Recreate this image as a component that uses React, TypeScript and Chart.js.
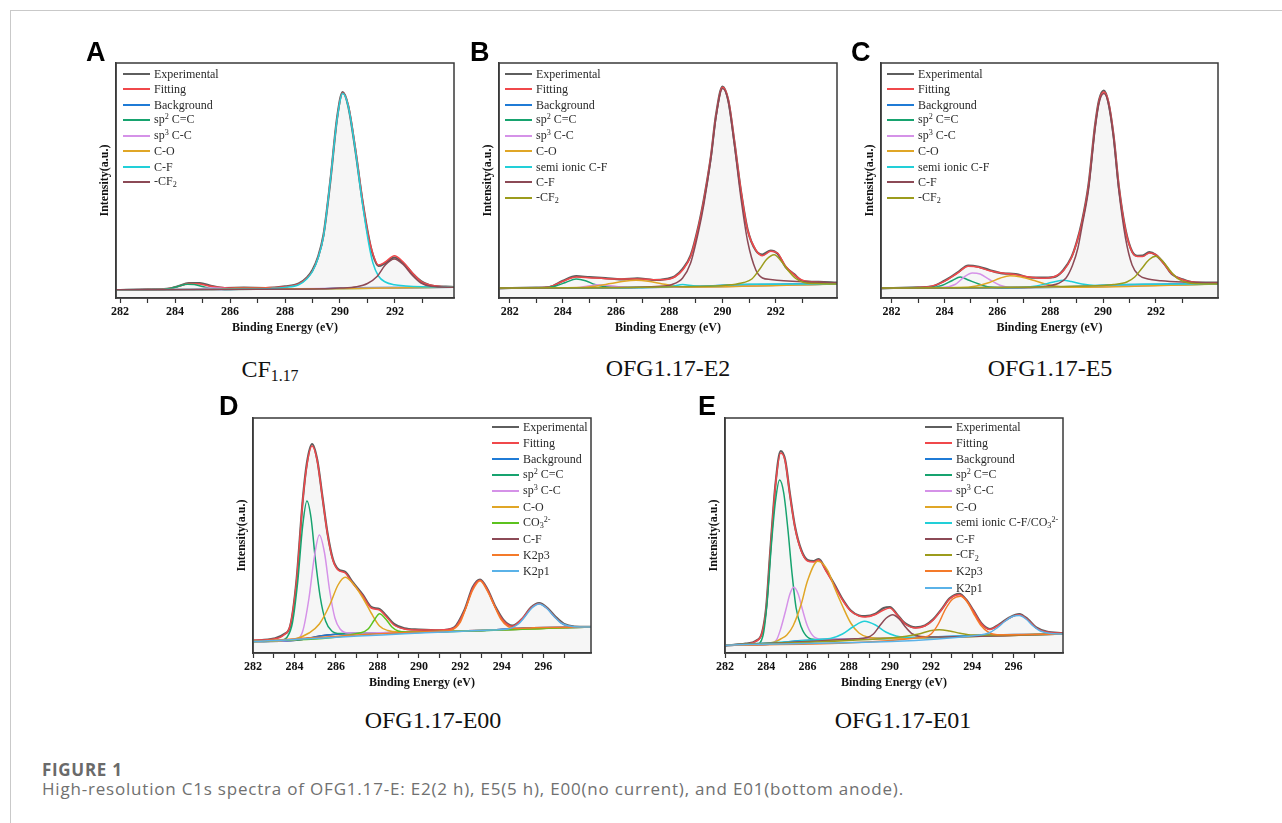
import React, { useEffect, useRef } from "react";
import { Chart, registerables } from "chart.js";

Chart.register(...registerables);

const SERIF = "'Liberation Serif', 'Times New Roman', serif";
const SANS = "'Liberation Sans', Arial, sans-serif";
const CAPTION_FONT = "'Open Sans', 'Noto Sans', sans-serif";

// ---------- colours ----------
const C_EXP = "#5e5e5e";
const C_FIT = "#f0484b";
const C_BG = "#1f7bd6";
const C_SP2 = "#17a36f";
const C_SP3 = "#d592e8";
const C_CO = "#e0a626";
const C_CYAN = "#22cfd8";
const C_BROWN = "#8c4a56";
const C_OLIVE = "#9c9c1c";
const C_CO3 = "#5cc21e";
const C_K3 = "#f47a2a";
const C_K1 = "#5ab2e8";

// ---------- tick values ----------
const TICKS_ABC = [282, 283, 284, 285, 286, 287, 288, 289, 290, 291, 292, 293];
const TICKS_DE = [282, 283, 284, 285, 286, 287, 288, 289, 290, 291, 292, 293, 294, 295, 296, 297];

// ---------- Panel A : CF1.17 ----------
const A_exp = [[281.85,8.0],[283.0,8.7],[283.7,9.1],[284.1,11.8],[284.5,14.8],[284.9,15],[285.3,12.2],[285.8,10.0],[286.5,10.3],[287.3,10.0],[288.0,11.6],[288.5,14.5],[288.8,20.5],[289.0,28],[289.2,41],[289.4,63],[289.65,117],[289.9,181],[290.1,206],[290.3,192],[290.55,150],[290.82,97],[291.05,60],[291.2,43],[291.4,32],[291.65,35],[291.98,40.5],[292.3,35],[292.64,24.5],[292.95,16.8],[293.25,13],[293.85,11.3],[294.15,11]];
const A_fit = [[281.85,8.3],[283.0,8.5],[283.7,9.3],[284.1,11.5],[284.5,14.5],[284.9,14],[285.3,11.8],[285.8,10.3],[286.5,10],[287.3,10.3],[288.0,11.3],[288.5,14],[288.8,20],[289.0,27],[289.2,40],[289.4,62],[289.65,118],[289.9,180],[290.1,205],[290.3,193],[290.55,152],[290.82,98],[291.05,60],[291.2,44],[291.4,33],[291.65,36],[291.98,42.3],[292.3,36],[292.64,25],[292.95,16.5],[293.25,13.3],[293.85,11],[294.15,10.8]];
const A_bg = [[281.85,8.3],[284,8.4],[286,8.6],[288,8.9],[289.3,9.3],[289.9,9.8],[290.5,10.2],[291.5,10.5],[294.15,10.7]];
const A_sp2 = [[281.85,8.3],[283.4,8.5],[283.8,9.6],[284.1,11.6],[284.45,13.8],[284.7,13.5],[285.0,11.5],[285.35,9.4],[285.8,8.6],[294.15,10.7]];
const A_sp3 = [[281.85,8.3],[284.6,8.5],[285.0,9.4],[285.4,10.1],[285.8,9.4],[286.3,8.7],[294.15,10.7]];
const A_co = [[281.85,8.3],[285.3,8.6],[286.2,9.4],[287.0,9.6],[287.8,9.4],[288.6,9.2],[294.15,11]];
const A_cf = [[281.85,8.3],[285,8.5],[286.5,9],[287.5,9.6],[288.0,10.6],[288.5,13.2],[288.8,19.3],[289.0,26.5],[289.2,39.5],[289.4,61.5],[289.65,117.5],[289.9,179.5],[290.1,204.5],[290.3,192],[290.55,150],[290.82,94],[291.05,54],[291.2,35],[291.4,22],[291.65,16],[291.98,13.2],[292.4,12],[293.0,11.2],[294.15,10.8]];
const A_cf2 = [[281.85,8.3],[289.0,8.9],[290.0,9.9],[290.6,11.3],[291.0,14.5],[291.35,21.5],[291.65,33],[291.98,39],[292.3,33.5],[292.64,22.5],[292.95,15],[293.3,11.8],[294.15,10.7]];

// ---------- Panel B : OFG1.17-E2 ----------
const B_exp = [[281.6,9.7],[283.0,10.5],[283.5,11.0],[284.0,17.2],[284.5,21.8],[285.0,20.8],[285.6,19.8],[286.2,18.6],[286.8,19.6],[287.4,18.0],[287.9,19.2],[288.2,21.5],[288.5,29],[288.8,42.5],[289.1,72.5],[289.3,99],[289.56,141],[289.75,182.5],[290.0,211.5],[290.22,197],[290.44,157],[290.69,107],[290.94,68.5],[291.25,47.5],[291.5,43.5],[291.81,47.5],[292.06,44.5],[292.37,31],[292.69,23.8],[293.0,17.2],[293.62,16.1],[294.3,15.3]];
const B_fit = [[281.6,10],[283.0,10.3],[283.5,11.3],[284.0,16.7],[284.5,21],[285.0,20.3],[285.6,19.3],[286.2,19],[286.8,19],[287.4,18.3],[287.9,18.5],[288.2,21],[288.5,28],[288.8,41.7],[289.1,71.7],[289.3,98],[289.56,141.7],[289.75,181.7],[290.0,210.7],[290.22,198],[290.44,158],[290.69,108],[290.94,68],[291.25,48],[291.5,42.3],[291.81,46.7],[292.06,45],[292.37,31.7],[292.69,23.3],[293.0,17.7],[293.62,15.7],[294.3,15]];
const B_bg = [[281.6,10],[285,10.2],[287,10.6],[288.5,11.2],[289.5,12.1],[290.2,13],[291,13.6],[292.5,13.9],[294.3,14]];
const B_sp2 = [[281.6,10],[283.3,10.3],[283.7,11.8],[284.1,15.5],[284.5,19],[284.85,17.3],[285.2,13.5],[285.6,11.2],[286.1,10.4],[294.3,14]];
const B_sp3 = [[281.6,10],[284.5,10.3],[284.9,11.8],[285.3,13.2],[285.7,12.6],[286.1,11.2],[286.6,10.4],[294.3,14]];
const B_co = [[281.6,10],[284.6,10.4],[285.2,11.8],[285.8,14.5],[286.3,16.8],[286.75,17.7],[287.2,16.8],[287.7,14.3],[288.2,12],[288.7,10.9],[294.3,14]];
const B_semi = [[281.6,10],[287.6,10.8],[288.1,11.6],[288.5,13.5],[288.9,12.3],[289.4,11.8],[290.2,13],[291,13.7],[294.3,14.1]];
const B_cf = [[281.6,10],[286.5,10.6],[287.5,11.5],[288.1,13.5],[288.5,20],[288.8,35],[289.1,67],[289.3,94],[289.56,139],[289.75,180],[290.0,209.5],[290.22,196],[290.44,154],[290.69,100],[290.94,57],[291.25,28],[291.5,20],[291.8,18.5],[292.3,17.3],[293.0,16.3],[294.3,15.3]];
const B_cf2 = [[281.6,10],[289.5,11.8],[290.3,13.2],[290.8,15.5],[291.1,19],[291.4,29],[291.65,38.5],[291.94,43.3],[292.2,37],[292.45,28],[292.75,19.5],[293.05,15.5],[293.5,14.4],[294.3,14]];

// ---------- Panel C : OFG1.17-E5 ----------
const C_exp = [[281.6,9.7],[283.0,10.6],[283.5,11.3],[284.0,17.3],[284.5,25.6],[284.9,32.5],[285.3,31.2],[285.7,28],[286.2,24.6],[286.7,24],[287.2,20.6],[287.8,20.3],[288.2,21.4],[288.5,28],[288.8,40.6],[289.0,55.5],[289.2,76],[289.45,113],[289.7,173],[289.85,198],[290.03,207.5],[290.2,196],[290.4,162],[290.6,111],[290.85,68.5],[291.1,46.5],[291.3,42.2],[291.5,42.3],[291.75,45.8],[292.0,43],[292.3,34.8],[292.6,24],[293.0,18.8],[293.5,15.4],[294.35,15.3]];
const C_fit = [[281.6,10],[283.0,10.4],[283.5,11.7],[284.0,16.7],[284.5,25],[284.9,31.7],[285.3,30.7],[285.7,27.3],[286.2,25],[286.7,23.3],[287.2,21],[287.8,19.7],[288.2,21.7],[288.5,27.3],[288.8,40],[289.0,55],[289.2,75],[289.45,112],[289.7,172],[289.85,197],[290.03,206],[290.2,197],[290.4,163],[290.6,112],[290.85,68],[291.1,46],[291.3,41.5],[291.5,41.5],[291.75,45],[292.0,43.3],[292.3,34.3],[292.6,24.3],[293.0,18.3],[293.5,15.7],[294.35,15]];
const C_bg = [[281.6,10],[285,10.2],[287,10.6],[288.5,11.2],[289.5,12.1],[290.2,13],[291,13.6],[292.5,13.9],[294.35,14]];
const C_sp2 = [[281.6,10],[283.5,10.5],[283.9,12.5],[284.3,17.5],[284.6,21],[284.9,18],[285.3,14],[285.7,11],[286.2,10.3],[294.35,14]];
const C_sp3 = [[281.6,10],[283.9,10.4],[284.4,13.5],[284.75,21],[285.05,25],[285.35,24],[285.7,18.5],[286.1,12.8],[286.5,10.6],[294.35,14]];
const C_co = [[281.6,10],[284.6,10.4],[285.2,12],[285.7,15.5],[286.1,19.8],[286.48,22.3],[286.9,21],[287.4,17.5],[287.9,13.5],[288.4,11.3],[289,10.7],[294.35,14]];
const C_semi = [[281.6,10],[286.8,10.5],[287.4,11.8],[287.9,14.5],[288.2,16.5],[288.49,17.7],[288.8,16.5],[289.2,14],[289.7,12.6],[290.5,13.2],[291.5,13.8],[294.35,14.1]];
const C_cf = [[281.6,10],[287,10.5],[287.8,11.8],[288.3,14.5],[288.6,20],[288.85,33],[289.05,50],[289.2,71],[289.45,108],[289.7,169],[289.85,195],[290.03,204.5],[290.2,195],[290.4,160],[290.6,107],[290.85,60],[291.1,33],[291.35,23],[291.7,19],[292.2,17.3],[293.0,16],[294.35,15]];
const C_cf2 = [[281.6,10],[289.5,12],[290.4,13.5],[290.9,16],[291.2,21],[291.45,29],[291.75,38.5],[292.0,41.7],[292.25,37],[292.55,27],[292.85,19],[293.2,15.3],[293.6,14.3],[294.35,14]];

// ---------- Panel D : OFG1.17-E00 ----------
const D_exp = [[282,12.3],[283.0,14.4],[283.5,18.8],[283.8,27.5],[284.1,73],[284.4,153],[284.6,190],[284.85,209],[285.1,193],[285.35,156],[285.6,119],[285.85,94],[286.1,84],[286.45,81],[286.8,71],[287.3,58],[287.7,46],[288.1,44],[288.4,38],[288.8,29],[289.3,24.6],[290,23.4],[291,22.6],[291.7,25.5],[292.2,43],[292.6,66],[292.95,73.5],[293.3,64],[293.7,46],[294.1,32.5],[294.5,27.3],[295.0,34.5],[295.4,45.5],[295.8,50],[296.2,45],[296.6,36],[297.0,29],[297.5,26.5],[298.3,26.2]];
const D_fit = [[282,12.7],[283.0,14],[283.5,18.3],[283.8,28],[284.1,72],[284.4,152],[284.6,188],[284.85,207],[285.1,192],[285.35,155],[285.6,118],[285.85,93],[286.1,83],[286.45,80],[286.8,70],[287.3,57],[287.7,45],[288.1,43],[288.4,37],[288.8,28],[289.3,24],[290,23],[291,23],[291.7,25],[292.2,42],[292.6,65],[292.95,72.7],[293.3,63.3],[293.7,45],[294.1,31.7],[294.5,26.7],[295.0,35],[295.4,45],[295.8,49.3],[296.2,44.3],[296.6,35],[297.0,28.3],[297.5,26],[298.3,25.7]];
const D_bg = [[282,11.5],[283.5,12],[284.2,13],[284.8,15.3],[285.4,17.5],[286.2,19],[287.5,20],[290,21],[292,22],[293.5,23],[294.5,24.3],[295.5,25.3],[298.3,26]];
const D_sp2 = [[282,11.5],[283.3,12.3],[283.65,16],[283.9,30],[284.15,70],[284.4,128],[284.6,152],[284.8,135],[285.0,95],[285.25,55],[285.5,32],[285.8,22],[286.2,19.5],[298.3,26]];
const D_sp3 = [[282,11.5],[284.0,13],[284.4,22],[284.7,55],[284.95,95],[285.2,118],[285.45,100],[285.7,62],[285.95,35],[286.2,24],[286.6,20],[298.3,26]];
const D_co = [[282,11.5],[284.0,14],[284.7,20],[285.2,29],[285.7,48],[286.1,68],[286.45,75.7],[286.8,70],[287.3,55],[287.7,40],[288.1,27],[288.5,22.5],[289.0,21],[298.3,26]];
const D_co3 = [[282,11.5],[287.2,20.2],[287.55,24],[287.85,33],[288.1,39.3],[288.4,34],[288.7,26],[289.0,22],[289.4,21],[298.3,26]];
const D_cf = [[282,11.5],[283.5,12],[284.2,13],[284.8,15.3],[285.4,17.5],[286.2,19],[287.5,20],[290,21],[292,22],[293.5,23],[294.5,24.3],[295.5,25.3],[298.3,26]];
const D_k3 = [[282,11.5],[290.5,21.3],[291.5,22.6],[292.0,31],[292.25,44],[292.6,63],[292.95,72.3],[293.3,62],[293.6,49],[293.95,34],[294.3,26.5],[294.8,24.5],[295.5,25.3],[298.3,26]];
const D_k1 = [[282,11.5],[293.5,23],[294.3,24],[294.8,29],[295.1,36],[295.45,45],[295.8,49],[296.15,45],[296.5,37],[296.85,30],[297.25,27],[297.8,26],[298.3,26]];

// ---------- Panel E : OFG1.17-E01 ----------
const E_exp = [[282,7.4],[283.0,9.3],[283.5,12.1],[283.8,20.5],[284.0,46],[284.2,103],[284.45,169],[284.7,202],[284.92,193],[285.15,159],[285.4,126],[285.7,103],[286.0,93],[286.3,92],[286.55,94],[286.9,83],[287.3,69],[287.7,54],[288.1,42.5],[288.5,37.5],[288.8,36.8],[289.3,39.2],[289.7,45],[290.0,46],[290.35,38.6],[290.75,29.5],[291.25,25.6],[291.7,27.4],[292.1,33.6],[292.5,43.6],[292.9,54.6],[293.37,59.2],[293.7,53.5],[294.05,42.6],[294.45,29.5],[294.85,24],[295.3,28.6],[295.8,35.5],[296.28,39],[296.7,33.6],[297.1,25.5],[297.6,21.4],[298.4,20]];
const E_fit = [[282,7.7],[283.0,9],[283.5,11.7],[283.8,20],[284.0,45],[284.2,102],[284.45,168],[284.7,200],[284.92,192],[285.15,158],[285.4,125],[285.7,102],[286.0,92],[286.3,91],[286.55,93],[286.9,82],[287.3,68],[287.7,53],[288.1,42],[288.5,37],[288.8,36],[289.3,38.5],[289.7,43],[290.0,45],[290.35,38],[290.75,29],[291.25,25],[291.7,27],[292.1,33],[292.5,43],[292.9,54],[293.37,58.3],[293.7,53],[294.05,42],[294.45,29],[294.85,23.5],[295.3,28],[295.8,35],[296.28,38.3],[296.7,33],[297.1,25],[297.6,21],[298.4,19.7]];
const E_bg = [[282,7.7],[283.5,8],[284.3,9],[285,11],[285.7,12.5],[286.5,13.3],[288,14],[290,15],[292,16],[294,17.5],[296,18.5],[298.4,19]];
const E_sp2 = [[282,7.7],[283.5,8.3],[283.85,18],[284.05,52],[284.25,108],[284.45,152],[284.65,173],[284.85,160],[285.05,124],[285.25,80],[285.45,45],[285.7,26],[286.0,16],[286.4,13.6],[298.4,19]];
const E_sp3 = [[282,7.7],[284.2,9.3],[284.5,13],[284.7,24],[284.95,43],[285.15,59],[285.34,65.7],[285.55,59],[285.75,44],[286.0,27],[286.3,16.5],[286.7,13.8],[298.4,19]];
const E_co = [[282,7.7],[283.8,9],[284.4,11],[284.7,14],[285.0,18],[285.3,27],[285.7,49],[286.0,72],[286.5,91.7],[287.0,82],[287.3,66],[287.7,47],[288.1,30],[288.5,20],[289.0,15.5],[289.6,14.8],[298.4,19]];
const E_semi = [[282,7.7],[286.5,13.4],[287.2,15],[287.7,19],[288.2,26],[288.77,31.7],[289.3,28],[289.8,21],[290.3,17],[290.8,15.6],[292,16],[298.4,19]];
const E_cf = [[282,7.7],[288.3,14.2],[288.9,15.5],[289.2,19],[289.5,27],[289.8,34.5],[290.14,38.3],[290.45,34],[290.8,25],[291.1,19],[291.5,16.5],[292,16.1],[298.4,19]];
const E_cf2 = [[282,7.7],[290.0,15],[290.8,16.8],[291.4,19],[291.95,22.3],[292.4,23.3],[292.9,22],[293.4,19.8],[294.0,18],[298.4,19]];
const E_k3 = [[282,7.7],[291.7,16],[292.0,19],[292.35,29],[292.7,44],[293.05,54],[293.42,56.7],[293.75,51],[294.05,40],[294.4,28],[294.8,20.5],[295.2,18.3],[298.4,19]];
const E_k1 = [[282,7.7],[294.3,17.8],[294.8,20],[295.2,25],[295.6,32],[295.95,36.5],[296.28,37.5],[296.6,34],[296.95,27],[297.3,22],[297.8,19.5],[298.4,19]];

// ---------- texts ----------
const L_EXP = "Experimental";
const L_FIT = "Fitting";
const L_BG = "Background";
const L_SP2 = "sp{^2} C=C";
const L_SP3 = "sp{^3} C-C";
const L_CO = "C-O";
const L_CF = "C-F";
const L_CF2 = "-CF{_2}";
const L_SEMI = "semi ionic C-F";
const L_CO3 = "CO{_3}{^2-}";
const L_SEMI_CO3 = "semi ionic C-F/CO{_3}{^2-}";
const L_K3 = "K2p3";
const L_K1 = "K2p1";
const X_TITLE = "Binding Energy (eV)";
const Y_TITLE = "Intensity(a.u.)";
const CAPTION_HEAD = "FIGURE 1";
const CAPTION_TEXT = "High-resolution C1s spectra of OFG1.17-E: E2(2 h), E5(5 h), E00(no current), and E01(bottom anode).";

type Role = "exp" | "fit" | "bg" | "comp" | "under";
type Series = { label: string; data: number[][]; color: string; role: Role };

const S = (label: string, data: number[][], color: string, role: Role = "comp"): Series => ({ label, data, color, role });

const PANELS = [
  {
    letter: "A", sample: "CF{_1.17}", sampleCx: 270, sampleBase: 377, letterL: 86, letterBase: 62,
    box: { l: 116, t: 63, w: 338, h: 235 }, xMin: 281.85, xMax: 294.15, ticks: TICKS_ABC,
    legend: { x: 123, y: 73.5, step: 15.5 },
    series: [S(L_EXP, A_exp, C_EXP, "exp"), S(L_FIT, A_fit, C_FIT, "fit"), S(L_BG, A_bg, C_BG, "bg"), S(L_SP2, A_sp2, C_SP2), S(L_SP3, A_sp3, C_SP3), S(L_CO, A_co, C_CO), S(L_CF, A_cf, C_CYAN), S(L_CF2, A_cf2, C_BROWN)],
  },
  {
    letter: "B", sample: "OFG1.17-E2", sampleCx: 668, sampleBase: 376, letterL: 470, letterBase: 62,
    box: { l: 499, t: 63, w: 338, h: 235 }, xMin: 281.6, xMax: 294.3, ticks: TICKS_ABC,
    legend: { x: 505, y: 73.5, step: 15.5 },
    series: [S(L_EXP, B_exp, C_EXP, "exp"), S(L_FIT, B_fit, C_FIT, "fit"), S(L_BG, B_bg, C_BG, "bg"), S(L_SP2, B_sp2, C_SP2), S(L_SP3, B_sp3, C_SP3), S(L_CO, B_co, C_CO), S(L_SEMI, B_semi, C_CYAN), S(L_CF, B_cf, C_BROWN), S(L_CF2, B_cf2, C_OLIVE)],
  },
  {
    letter: "C", sample: "OFG1.17-E5", sampleCx: 1050, sampleBase: 376, letterL: 851, letterBase: 62,
    box: { l: 881, t: 63, w: 337, h: 235 }, xMin: 281.6, xMax: 294.35, ticks: TICKS_ABC,
    legend: { x: 887, y: 73.5, step: 15.5 },
    series: [S(L_EXP, C_exp, C_EXP, "exp"), S(L_FIT, C_fit, C_FIT, "fit"), S(L_BG, C_bg, C_BG, "bg"), S(L_SP2, C_sp2, C_SP2), S(L_SP3, C_sp3, C_SP3), S(L_CO, C_co, C_CO), S(L_SEMI, C_semi, C_CYAN), S(L_CF, C_cf, C_BROWN), S(L_CF2, C_cf2, C_OLIVE)],
  },
  {
    letter: "D", sample: "OFG1.17-E00", sampleCx: 433, sampleBase: 728, letterL: 219, letterBase: 416,
    box: { l: 253, t: 418, w: 338, h: 235 }, xMin: 282, xMax: 298.3, ticks: TICKS_DE,
    legend: { x: 492, y: 426.5, step: 16.1 },
    series: [S(L_EXP, D_exp, C_EXP, "exp"), S(L_FIT, D_fit, C_FIT, "fit"), S(L_BG, D_bg, C_BG, "bg"), S(L_SP2, D_sp2, C_SP2), S(L_SP3, D_sp3, C_SP3), S(L_CO, D_co, C_CO), S(L_CO3, D_co3, C_CO3), S(L_CF, D_cf, C_BROWN, "under"), S(L_K3, D_k3, C_K3), S(L_K1, D_k1, C_K1)],
  },
  {
    letter: "E", sample: "OFG1.17-E01", sampleCx: 903, sampleBase: 728, letterL: 698, letterBase: 416,
    box: { l: 725, t: 418, w: 338, h: 235 }, xMin: 282, xMax: 298.4, ticks: TICKS_DE,
    legend: { x: 925, y: 426.5, step: 16.1 },
    series: [S(L_EXP, E_exp, C_EXP, "exp"), S(L_FIT, E_fit, C_FIT, "fit"), S(L_BG, E_bg, C_BG, "bg"), S(L_SP2, E_sp2, C_SP2), S(L_SP3, E_sp3, C_SP3), S(L_CO, E_co, C_CO), S(L_SEMI_CO3, E_semi, C_CYAN), S(L_CF, E_cf, C_BROWN), S(L_CF2, E_cf2, C_OLIVE), S(L_K3, E_k3, C_K3), S(L_K1, E_k1, C_K1)],
  },
];

const Y_W = 18;
const PAD_T = 3;
const PAD_R = 3;
const X_H = 37;

const framePlugin = {
  id: "frame",
  afterDraw(chart: any) {
    const { ctx, chartArea: a } = chart;
    ctx.save();
    ctx.strokeStyle = "#3a3a3a";
    ctx.lineWidth = 1.5;
    ctx.strokeRect(a.left, a.top, a.right - a.left, a.bottom - a.top);
    ctx.restore();
  },
};

function rich(s: string, subSize = "0.68em") {
  const parts: any[] = [];
  const re = /\{([_^])([^}]*)\}/g;
  let last = 0;
  let m: any;
  let k = 0;
  while ((m = re.exec(s))) {
    if (m.index > last) parts.push(s.slice(last, m.index));
    const style: any =
      m[1] === "^"
        ? { fontSize: subSize, position: "relative", top: "-0.45em" }
        : { fontSize: subSize, position: "relative", top: "0.28em" };
    parts.push(
      <span key={k++} style={style}>
        {m[2]}
      </span>
    );
    last = re.lastIndex;
  }
  if (last < s.length) parts.push(s.slice(last));
  return parts;
}

function Panel({ p }: { p: any }) {
  const ref = useRef<HTMLCanvasElement | null>(null);
  const W = p.box.w + Y_W + PAD_R;
  const H = p.box.h + PAD_T + X_H;

  useEffect(() => {
    const datasets = p.series.map((s: Series, i: number) => ({
      label: s.label,
      data: s.data.map(([x, y]) => ({ x, y })),
      borderColor: s.color,
      borderWidth: s.role === "exp" ? 2.2 : 1.5,
      pointRadius: 0,
      cubicInterpolationMode: "monotone",
      tension: 0.4,
      fill: s.role === "fit" ? "origin" : false,
      backgroundColor: s.role === "fit" ? "rgba(0,0,0,0.035)" : "transparent",
      order: s.role === "under" ? 120 : s.role === "bg" ? 100 : s.role === "exp" ? 90 : s.role === "fit" ? 80 : 60 - i,
    }));
    const tickFont = { family: SERIF, weight: "bold" as const, size: 12 };
    const chart = new Chart(ref.current as HTMLCanvasElement, {
      type: "line",
      data: { datasets },
      options: {
        responsive: false,
        animation: false,
        devicePixelRatio: 1,
        layout: { padding: { left: 0, top: PAD_T, right: PAD_R, bottom: 0 } },
        plugins: { legend: { display: false }, tooltip: { enabled: false } },
        events: [],
        scales: {
          x: {
            type: "linear",
            min: p.xMin,
            max: p.xMax,
            afterBuildTicks: (scale: any) => {
              scale.ticks = p.ticks.map((v: number) => ({ value: v }));
            },
            afterFit: (scale: any) => {
              scale.height = X_H;
            },
            ticks: {
              autoSkip: false,
              maxRotation: 0,
              padding: 2,
              color: "#111",
              font: tickFont,
              callback: (v: any) => (Number(v) % 2 === 0 ? String(v) : ""),
            },
            grid: { display: true, drawOnChartArea: false, drawTicks: true, tickLength: 5, tickColor: "#333", tickWidth: 1.2 },
            border: { display: true, color: "#3a3a3a", width: 1.5 },
            title: { display: true, text: X_TITLE, color: "#111", font: tickFont, padding: 0 },
          },
          y: {
            type: "linear",
            min: 0,
            max: p.box.h,
            afterFit: (scale: any) => {
              scale.width = Y_W;
            },
            ticks: { display: false },
            grid: { display: false, drawTicks: false },
            border: { display: true, color: "#3a3a3a", width: 1.5 },
            title: { display: true, text: Y_TITLE, color: "#111", font: tickFont, padding: 0 },
          },
        },
      },
      plugins: [framePlugin],
    } as any);
    return () => chart.destroy();
  }, [p]);

  const letterSize = 27;
  const sampleSize = 24;
  return (
    <>
      <canvas
        ref={ref}
        width={W}
        height={H}
        style={{ position: "absolute", left: p.box.l - Y_W, top: p.box.t - PAD_T, width: W, height: H }}
      />
      {p.series.map((s: Series, i: number) => (
        <div
          key={i}
          style={{
            position: "absolute",
            left: p.legend.x,
            top: p.legend.y + i * p.legend.step - 8,
            height: 16,
            lineHeight: "16px",
            display: "flex",
            alignItems: "center",
            whiteSpace: "nowrap",
            fontFamily: SERIF,
            fontSize: 12,
            color: "#2a2a2a",
          }}
        >
          <span style={{ display: "inline-block", width: 27, height: 2, background: s.color, marginRight: 4 }} />
          <span>{rich(s.label)}</span>
        </div>
      ))}
      <div
        style={{
          position: "absolute",
          left: p.letterL,
          top: p.letterBase - 22.85,
          fontFamily: SANS,
          fontWeight: "bold",
          fontSize: letterSize,
          lineHeight: 1,
          color: "#000",
        }}
      >
        {p.letter}
      </div>
      <div
        style={{
          position: "absolute",
          left: p.sampleCx,
          top: p.sampleBase - 20.1,
          transform: "translateX(-50%)",
          fontFamily: SERIF,
          fontSize: sampleSize,
          lineHeight: 1,
          color: "#111",
          whiteSpace: "nowrap",
        }}
      >
        {rich(p.sample, "0.66em")}
      </div>
    </>
  );
}

export default function App() {
  return (
    <div style={{ position: "fixed", left: 0, top: 0, width: 1282, height: 823, background: "#fff", overflow: "hidden" }}>
      <div style={{ position: "absolute", left: 10, top: 10, width: 1272, height: 1, background: "#c9c9c9" }} />
      <div style={{ position: "absolute", left: 10, top: 10, width: 1, height: 813, background: "#c9c9c9" }} />
      {PANELS.map((p) => (
        <Panel key={p.letter} p={p} />
      ))}
      <div
        style={{
          position: "absolute",
          left: 42,
          top: 761,
          fontFamily: CAPTION_FONT,
          fontWeight: "bold",
          fontSize: 17,
          letterSpacing: 0.7,
          lineHeight: 1,
          color: "#6a6a6a",
          whiteSpace: "nowrap",
        }}
      >
        {CAPTION_HEAD}
      </div>
      <div
        style={{
          position: "absolute",
          left: 42,
          top: 779,
          fontFamily: CAPTION_FONT,
          fontSize: 17,
          letterSpacing: 0.8,
          lineHeight: 1.2,
          color: "#707070",
          whiteSpace: "nowrap",
        }}
      >
        {CAPTION_TEXT}
      </div>
    </div>
  );
}
